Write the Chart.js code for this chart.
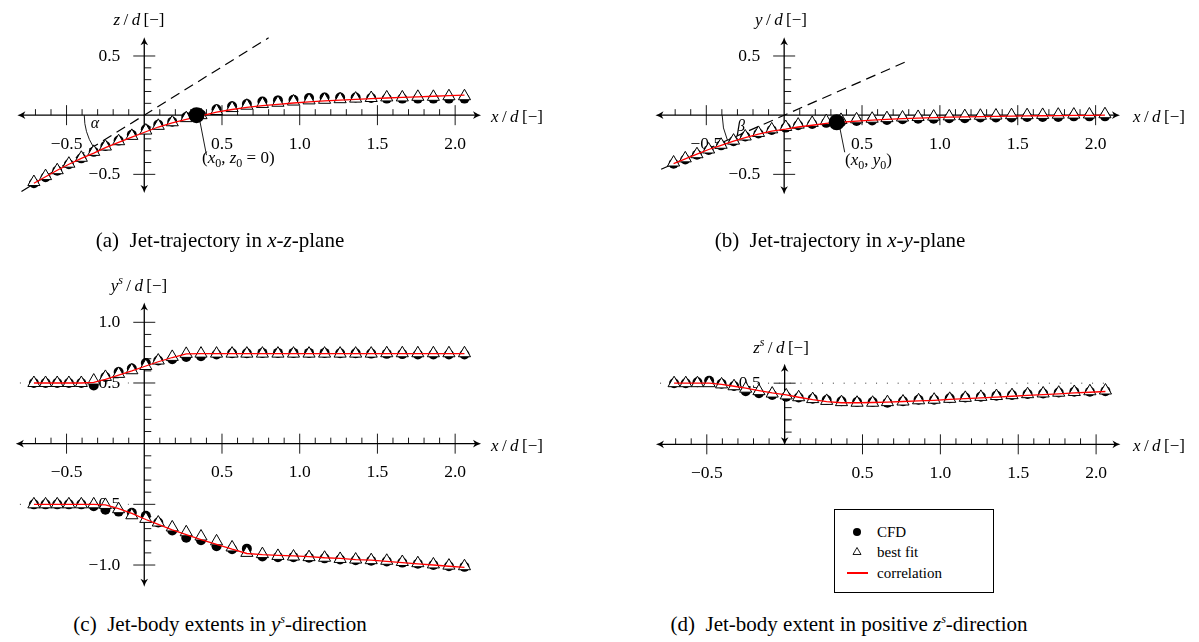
<!DOCTYPE html>
<html>
<head>
<meta charset="utf-8">
<script src="https://cdn.jsdelivr.net/npm/chart.js@4.4.0/dist/chart.umd.min.js"></script>
<style>
  html, body { margin: 0; padding: 0; background: #fff; }
  body { width: 1199px; height: 642px; position: relative; overflow: hidden;
         font-family: "Liberation Serif", "DejaVu Serif", serif; color: #000; }
  canvas { position: absolute; }
  .t { position: absolute; white-space: nowrap; line-height: 1; font-size: 17px; }
  .c { transform: translate(-50%, -50%); }
  .l { transform: translate(0, -50%); }
  .cap { font-size: 21px; }
  sub, sup { font-size: 12px; line-height: 0; }
  #legend { position: absolute; left: 834px; top: 509px; width: 158px; height: 82px;
            border: 1px solid #000; background: #fff; font-size: 15px; }
  #legend .row { position: absolute; left: 0; height: 18px; width: 158px; }
  #legend .sym { position: absolute; left: 12px; width: 20px; height: 18px; }
  #legend .txt { position: absolute; left: 42px; top: 0; line-height: 18px; }
</style>
</head>
<body>
<canvas id="panelA" width="600" height="235" style="left:0;top:0"></canvas>
<canvas id="panelB" width="599" height="235" style="left:600px;top:0"></canvas>
<canvas id="panelC" width="600" height="360" style="left:0;top:250px"></canvas>
<canvas id="panelD" width="599" height="360" style="left:600px;top:250px"></canvas>

<!-- axis titles -->
<div class="t c" style="left:139px;top:19px"><i>z</i>&thinsp;/&thinsp;<i>d</i>&thinsp;[−]</div>
<div class="t l" style="left:491px;top:116px"><i>x</i>&thinsp;/&thinsp;<i>d</i>&thinsp;[−]</div>
<div class="t c" style="left:781px;top:19px"><i>y</i>&thinsp;/&thinsp;<i>d</i>&thinsp;[−]</div>
<div class="t l" style="left:1133px;top:116px"><i>x</i>&thinsp;/&thinsp;<i>d</i>&thinsp;[−]</div>
<div class="t c" style="left:139px;top:285px"><i>y</i><sup><i>s</i></sup>&thinsp;/&thinsp;<i>d</i>&thinsp;[−]</div>
<div class="t l" style="left:491px;top:445px"><i>x</i>&thinsp;/&thinsp;<i>d</i>&thinsp;[−]</div>
<div class="t c" style="left:781px;top:347px"><i>z</i><sup><i>s</i></sup>&thinsp;/&thinsp;<i>d</i>&thinsp;[−]</div>
<div class="t l" style="left:1133px;top:445px"><i>x</i>&thinsp;/&thinsp;<i>d</i>&thinsp;[−]</div>

<!-- annotations -->
<div class="t c" style="left:95px;top:123px;font-size:16px"><i>α</i></div>
<div class="t c" style="left:741px;top:126px;font-size:16px"><i>β</i></div>
<div class="t l" style="left:202px;top:157px">(<i>x</i><sub>0</sub>, <i>z</i><sub>0</sub> = 0)</div>
<div class="t l" style="left:845px;top:159px">(<i>x</i><sub>0</sub>, <i>y</i><sub>0</sub>)</div>

<!-- captions -->
<div class="t c cap" style="left:220px;top:240px">(a)&nbsp; Jet-trajectory in <i>x</i>-<i>z</i>-plane</div>
<div class="t c cap" style="left:840px;top:240px">(b)&nbsp; Jet-trajectory in <i>x</i>-<i>y</i>-plane</div>
<div class="t c cap" style="left:220px;top:624px">(c)&nbsp; Jet-body extents in <i>y</i><sup><i>s</i></sup>-direction</div>
<div class="t c cap" style="left:849px;top:624px">(d)&nbsp; Jet-body extent in positive <i>z</i><sup><i>s</i></sup>-direction</div>

<div id="legend"></div>

<script>
// streamwise positions of the samples (shared by all four panels)
const xPos = [-0.71, -0.635, -0.56, -0.485, -0.405, -0.325, -0.25, -0.165, -0.08, 0.01,
              0.09, 0.18, 0.27, 0.365, 0.465, 0.565, 0.66, 0.76, 0.86, 0.96,
              1.06, 1.16, 1.26, 1.36, 1.46, 1.56, 1.66, 1.76, 1.86, 1.96, 2.06];

// (a) trajectory in x-z plane
const trajZCfd  = [-0.575, -0.525, -0.47, -0.415, -0.365, -0.31, -0.26, -0.215, -0.165, -0.12,
                   -0.08, -0.055, -0.015, 0.005, 0.05, 0.075, 0.095, 0.115, 0.125, 0.13,
                   0.145, 0.15, 0.15, 0.15, 0.145, 0.14, 0.14, 0.14, 0.14, 0.14, 0.14];
const trajZFit  = [-0.565, -0.515, -0.465, -0.41, -0.36, -0.31, -0.265, -0.22, -0.175, -0.13,
                   -0.09, -0.06, -0.025, 0.0, 0.035, 0.06, 0.08, 0.095, 0.105, 0.115,
                   0.125, 0.13, 0.135, 0.14, 0.145, 0.15, 0.15, 0.155, 0.155, 0.16, 0.16];
const trajZCorr = [-0.575, -0.52, -0.465, -0.415, -0.365, -0.32, -0.275, -0.23, -0.185, -0.14,
                   -0.1, -0.065, -0.035, -0.005, 0.025, 0.048, 0.065, 0.08, 0.092, 0.103,
                   0.112, 0.12, 0.127, 0.133, 0.139, 0.145, 0.15, 0.155, 0.16, 0.165, 0.17];
const dashX = [-0.79, 0.80];
const dashZ = [-0.645, 0.654];
const stagZ = [0.336, 0.0];          // (x0, z0 = 0)

// (b) trajectory in x-y plane
const trajYCfd  = [-0.41, -0.375, -0.335, -0.295, -0.255, -0.22, -0.18, -0.155, -0.125, -0.105,
                   -0.085, -0.075, -0.065, -0.06, -0.05, -0.045, -0.04, -0.035, -0.03, -0.03,
                   -0.025, -0.025, -0.02, -0.02, -0.02, -0.015, -0.015, -0.015, -0.01, -0.01, -0.01];
const trajYFit  = [-0.40, -0.365, -0.33, -0.29, -0.25, -0.215, -0.18, -0.15, -0.12, -0.10,
                   -0.08, -0.065, -0.05, -0.04, -0.035, -0.03, -0.025, -0.02, -0.015, -0.012,
                   -0.01, -0.008, -0.005, -0.003, 0.0, 0.0, 0.002, 0.004, 0.005, 0.006, 0.008];
const trajYCorr = [-0.41, -0.37, -0.33, -0.29, -0.255, -0.22, -0.19, -0.16, -0.135, -0.118,
                   -0.1, -0.085, -0.07, -0.06, -0.05, -0.042, -0.035, -0.03, -0.025, -0.02,
                   -0.017, -0.014, -0.012, -0.01, -0.008, -0.006, -0.005, -0.004, -0.002, -0.001, 0.0];
const dashY = [-0.457, 0.462];
const stagY = [0.3375, -0.06];       // (x0, y0)

// (c) jet-body extents in y^s direction
const extYUpCfd   = [0.5, 0.5, 0.5, 0.5, 0.5, 0.48, 0.55, 0.59, 0.62, 0.665,
                     0.685, 0.695, 0.715, 0.72, 0.735, 0.745, 0.745, 0.748, 0.748, 0.748,
                     0.748, 0.748, 0.745, 0.745, 0.742, 0.74, 0.738, 0.735, 0.735, 0.735, 0.735];
const extYUpFit   = [0.5, 0.5, 0.5, 0.5, 0.5, 0.52, 0.55, 0.575, 0.605, 0.64,
                     0.685, 0.715, 0.74, 0.742, 0.742, 0.742, 0.742, 0.742, 0.742, 0.742,
                     0.742, 0.742, 0.742, 0.742, 0.742, 0.745, 0.745, 0.745, 0.745, 0.745, 0.745];
const extYUpCorr  = [0.5, 0.5, 0.5, 0.5, 0.5, 0.505, 0.53, 0.565, 0.6, 0.64,
                     0.675, 0.71, 0.74, 0.742, 0.742, 0.742, 0.742, 0.742, 0.742, 0.742,
                     0.742, 0.742, 0.742, 0.742, 0.742, 0.742, 0.742, 0.742, 0.742, 0.742, 0.742];
const extYLowCfd  = [-0.5, -0.5, -0.5, -0.5, -0.5, -0.515, -0.545, -0.56, -0.57, -0.595,
                     -0.65, -0.715, -0.775, -0.795, -0.845, -0.87, -0.865, -0.93, -0.935, -0.935,
                     -0.94, -0.945, -0.955, -0.96, -0.965, -0.97, -0.98, -0.99, -1.0, -1.01, -1.015];
const extYLowFit  = [-0.5, -0.5, -0.5, -0.5, -0.5, -0.5, -0.505, -0.54, -0.59, -0.62,
                     -0.65, -0.69, -0.73, -0.765, -0.805, -0.855, -0.9, -0.91, -0.925, -0.93,
                     -0.935, -0.94, -0.95, -0.955, -0.96, -0.965, -0.975, -0.985, -0.995, -1.005, -1.01];
const extYLowCorr = [-0.5, -0.5, -0.5, -0.5, -0.5, -0.5, -0.505, -0.535, -0.575, -0.625,
                     -0.665, -0.71, -0.75, -0.79, -0.83, -0.87, -0.905, -0.915, -0.92, -0.925,
                     -0.93, -0.94, -0.945, -0.955, -0.96, -0.97, -0.98, -0.99, -1.0, -1.01, -1.02];
const refLevelX = [-0.8, -0.1];

// (d) jet-body extent in positive z^s direction
const extZCfd  = [0.5, 0.5, 0.508, 0.52, 0.495, 0.477, 0.435, 0.417, 0.404, 0.39,
                  0.383, 0.372, 0.362, 0.352, 0.346, 0.346, 0.34, 0.352, 0.364, 0.364,
                  0.377, 0.383, 0.39, 0.398, 0.404, 0.411, 0.416, 0.424, 0.43, 0.43, 0.435];
const extZFit  = [0.5, 0.5, 0.5, 0.5, 0.49, 0.475, 0.455, 0.435, 0.415, 0.4,
                  0.385, 0.37, 0.355, 0.345, 0.34, 0.34, 0.345, 0.35, 0.36, 0.365,
                  0.372, 0.38, 0.388, 0.395, 0.402, 0.41, 0.416, 0.422, 0.428, 0.434, 0.44];
const extZCorr = [0.5, 0.5, 0.5, 0.5, 0.49, 0.475, 0.46, 0.44, 0.42, 0.405,
                  0.385, 0.365, 0.35, 0.34, 0.34, 0.342, 0.345, 0.35, 0.355, 0.36,
                  0.367, 0.373, 0.38, 0.386, 0.393, 0.4, 0.406, 0.413, 0.42, 0.426, 0.432];
const refLevelXFull = [-0.8, 2.07];

// ticks
const xTickVals   = [-0.5, 0.5, 1.0, 1.5, 2.0];
const xTickLabels = ['−0.5', '0.5', '1.0', '1.5', '2.0'];
const yTickValsTraj   = [0.5, -0.5];
const yTickLabelsTraj = ['0.5', '−0.5'];
const yTickValsExtY   = [1.0, 0.5, -0.5, -1.0];
const yTickLabelsExtY = ['1.0', '0.5', '−0.5', '−1.0'];
const yTickValsExtZ   = [0.5];
const yTickLabelsExtZ = ['0.5'];

const legendLabels = ['CFD', 'best fit', 'correlation'];

const pts = (xs, ys) => xs.map((x, i) => ({x: x, y: ys[i]}));

function arrowHead(ctx, px, py, ang) {
  ctx.save();
  ctx.translate(px, py);
  ctx.rotate(ang);
  ctx.beginPath();
  ctx.moveTo(1, 0);
  ctx.quadraticCurveTo(-3, -1, -7, -3.8);
  ctx.lineTo(-5, 0);
  ctx.lineTo(-7, 3.8);
  ctx.quadraticCurveTo(-3, 1, 1, 0);
  ctx.fill();
  ctx.restore();
}

function seg(ctx, a, b, c, d) {
  ctx.beginPath(); ctx.moveTo(a, b); ctx.lineTo(c, d); ctx.stroke();
}

// crossing axes through the origin, drawn from the chart's own scales
function crossAxes(cfg) {
  return {
    id: 'crossAxes',
    beforeDatasetsDraw(chart) {
      const ctx = chart.ctx, sx = chart.scales.x, sy = chart.scales.y;
      const X = v => sx.getPixelForValue(v), Y = v => sy.getPixelForValue(v);
      const x0 = X(0), y0 = Y(0);
      ctx.save();
      ctx.strokeStyle = '#000';
      ctx.fillStyle = '#000';
      ctx.lineWidth = 1.3;
      seg(ctx, X(cfg.xRange[0]) + 4, y0, X(cfg.xRange[1]) - 4, y0);
      arrowHead(ctx, X(cfg.xRange[1]), y0, 0);
      arrowHead(ctx, X(cfg.xRange[0]), y0, Math.PI);
      seg(ctx, x0, Y(cfg.yRange[0]) - 4, x0, Y(cfg.yRange[1]) + 4);
      arrowHead(ctx, x0, Y(cfg.yRange[1]), -Math.PI / 2);
      arrowHead(ctx, x0, Y(cfg.yRange[0]), Math.PI / 2);

      ctx.lineWidth = 0.9;
      for (let k = -7; k <= 19; k++) {
        if (k % 5 === 0) continue;
        seg(ctx, X(k / 10), y0 - 6, X(k / 10), y0);
      }
      cfg.xTicks.forEach(v => seg(ctx, X(v), y0 - 10, X(v), y0 + 10));
      for (let k = cfg.yMinor[0]; k <= cfg.yMinor[1]; k++) {
        if (k % 5 === 0) continue;
        seg(ctx, x0, Y(k / 10), x0 + 7, Y(k / 10));
      }
      cfg.yTicks.forEach(v => seg(ctx, x0 - 11, Y(v), x0 + 11, Y(v)));

      ctx.font = '17.5px "Liberation Serif", serif';
      ctx.textBaseline = 'middle';
      ctx.textAlign = 'center';
      cfg.xTicks.forEach((v, i) => ctx.fillText(cfg.xLabels[i], X(v), y0 + 29));
      ctx.textAlign = 'right';
      cfg.yTicks.forEach((v, i) => ctx.fillText(cfg.yLabels[i], x0 - 24, Y(v)));
      ctx.restore();
    }
  };
}

// angle arc between negative x axis and the dashed tangent, plus leader line to (x0, .)
function tangentMarks(r, lead) {
  return {
    id: 'tangentMarks',
    afterDatasetsDraw(chart) {
      const ctx = chart.ctx;
      const dash = chart.getDatasetMeta(1).data;
      const stag = chart.getDatasetMeta(0).data[0];
      const x0 = chart.scales.x.getPixelForValue(0), y0 = chart.scales.y.getPixelForValue(0);
      const ang = Math.atan2(dash[0].y - y0, dash[0].x - x0);
      ctx.save();
      ctx.strokeStyle = '#000';
      ctx.lineWidth = 0.9;
      ctx.beginPath();
      ctx.arc(x0, y0, r, ang, Math.PI);
      ctx.stroke();
      seg(ctx, stag.x + lead[0], stag.y + lead[1], stag.x + lead[2], stag.y + lead[3]);
      ctx.restore();
    }
  };
}

function markerSets(cfd, fit, corr) {
  return [
    { label: legendLabels[2], data: pts(xPos, corr), showLine: true, borderColor: '#ff0000',
      borderWidth: 1.3, pointRadius: 0, order: 1 },
    { label: legendLabels[1], data: pts(xPos, fit), showLine: false, pointStyle: 'triangle',
      pointRadius: 7, backgroundColor: '#ffffff', borderColor: '#000', borderWidth: 1, order: 2 },
    { label: legendLabels[0], data: pts(xPos, cfd), showLine: false, pointStyle: 'circle',
      pointRadius: 5, backgroundColor: '#000', borderColor: '#000', borderWidth: 0, order: 3 }
  ];
}

function makePanel(id, geo, datasets, plugins) {
  const cv = document.getElementById(id);
  const w = cv.width, h = cv.height;
  return new Chart(cv, {
    type: 'scatter',
    data: { datasets: datasets },
    options: {
      responsive: false,
      animation: false,
      events: [],
      layout: { padding: 0 },
      scales: {
        x: { type: 'linear', display: false, bounds: 'data',
             min: -geo.ox / geo.sx, max: (w - geo.ox) / geo.sx },
        y: { type: 'linear', display: false, bounds: 'data',
             min: -(h - geo.oy) / geo.sy, max: geo.oy / geo.sy }
      },
      plugins: { legend: { display: false }, tooltip: { enabled: false } }
    },
    plugins: plugins
  });
}

// (a)
makePanel('panelA', { ox: 140, oy: 115, sx: 159.7, sy: 127 }, [
  { data: [{x: stagZ[0], y: stagZ[1]}], pointRadius: 8, backgroundColor: '#000', borderWidth: 0, order: 0 },
  { data: pts(dashX, dashZ), showLine: true, borderColor: '#000', borderWidth: 1.2,
    borderDash: [10, 6], pointRadius: 0, order: 4 },
  ...markerSets(trajZCfd, trajZFit, trajZCorr)
], [
  crossAxes({ xRange: [-0.81, 2.16], yRange: [-0.65, 0.65], xTicks: xTickVals, xLabels: xTickLabels,
              yTicks: yTickValsTraj, yLabels: yTickLabelsTraj, yMinor: [-4, 4] }),
  tangentMarks(60, [3.5, 6.5, 10, 40])
]);

// (b)
makePanel('panelB', { ox: 181, oy: 115, sx: 160, sy: 127 }, [
  { data: [{x: stagY[0], y: stagY[1]}], pointRadius: 8, backgroundColor: '#000', borderWidth: 0, order: 0 },
  { data: pts(dashX, dashY), showLine: true, borderColor: '#000', borderWidth: 1.2,
    borderDash: [10, 6], pointRadius: 0, order: 4 },
  ...markerSets(trajYCfd, trajYFit, trajYCorr)
], [
  crossAxes({ xRange: [-0.82, 2.15], yRange: [-0.66, 0.65], xTicks: xTickVals, xLabels: xTickLabels,
              yTicks: yTickValsTraj, yLabels: yTickLabelsTraj, yMinor: [-4, 4] }),
  tangentMarks(62, [3, 5, 8, 30])
]);

// (c)
makePanel('panelC', { ox: 140, oy: 194.3, sx: 159.7, sy: 127 }, [
  { data: pts(refLevelX, [0.5, 0.5]), showLine: true, borderColor: '#333', borderWidth: 1,
    borderDash: [1, 9.8], pointRadius: 0, order: 5 },
  { data: pts(refLevelX, [-0.5, -0.5]), showLine: true, borderColor: '#333', borderWidth: 1,
    borderDash: [1, 9.8], pointRadius: 0, order: 5 },
  ...markerSets(extYUpCfd, extYUpFit, extYUpCorr),
  ...markerSets(extYLowCfd, extYLowFit, extYLowCorr)
], [
  crossAxes({ xRange: [-0.82, 2.16], yRange: [-1.17, 1.155], xTicks: xTickVals, xLabels: xTickLabels,
              yTicks: yTickValsExtY, yLabels: yTickLabelsExtY, yMinor: [-9, 9] })
]);

// (d)
makePanel('panelD', { ox: 181.5, oy: 195, sx: 160, sy: 128 }, [
  { data: pts(refLevelXFull, [0.5, 0.5]), showLine: true, borderColor: '#333', borderWidth: 1,
    borderDash: [1, 9.8], pointRadius: 0, order: 5 },
  ...markerSets(extZCfd, extZFit, extZCorr)
], [
  crossAxes({ xRange: [-0.82, 2.15], yRange: [0.0, 0.65], xTicks: xTickVals, xLabels: xTickLabels,
              yTicks: yTickValsExtZ, yLabels: yTickLabelsExtZ, yMinor: [1, 4] })
]);

// legend box
const legend = document.getElementById('legend');
const symbols = [
  '<span style="position:absolute;left:6px;top:5px;width:8px;height:8px;border-radius:50%;background:#000"></span>',
  '<svg width="20" height="18" style="position:absolute;left:0;top:0"><polygon points="10,4.5 14,11.5 6,11.5" fill="#fff" stroke="#000" stroke-width="0.9"/></svg>',
  '<span style="position:absolute;left:0;top:8px;width:21px;height:2px;background:#ff0000"></span>'
];
const rowTops = [13, 33, 54];
legendLabels.forEach((lab, i) => {
  const row = document.createElement('div');
  row.className = 'row';
  row.style.top = rowTops[i] + 'px';
  row.innerHTML = '<div class="sym">' + symbols[i] + '</div><div class="txt">' + lab + '</div>';
  legend.appendChild(row);
});
</script>
</body>
</html>
